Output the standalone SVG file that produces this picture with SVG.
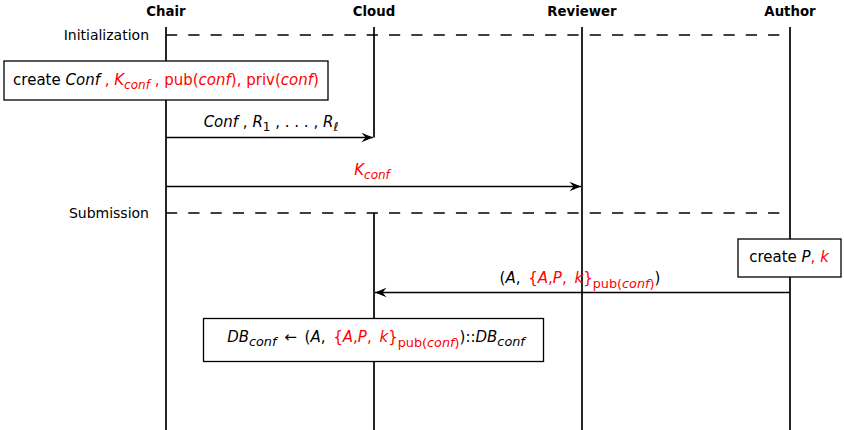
<svg xmlns="http://www.w3.org/2000/svg" width="844" height="430" viewBox="0 0 844 430">
<style>
text{font-family:"DejaVu Sans","Liberation Sans",sans-serif;font-size:15px;fill:#000}
.hd{font-weight:bold;font-size:13.3px;text-anchor:middle}
.lbl{font-size:14px;text-anchor:end}
.it{font-style:italic}
.r{fill:#ff0000}
.sub{font-size:12px}
.sub2{font-size:12.8px}
.life{stroke:#000;stroke-width:1.7;fill:none}
.dash{stroke:#000;stroke-width:1.5;stroke-dasharray:11.2 11.1;fill:none}
.msg{stroke:#000;stroke-width:1.3;fill:none}
.box{fill:#fff;stroke:#000;stroke-width:1.3}
.mid{text-anchor:middle}
.ws{word-spacing:3px}
</style>
<defs>
<marker id="ah" markerUnits="userSpaceOnUse" markerWidth="14" markerHeight="12" viewBox="-12 -6 13 12" refX="0" refY="0" orient="auto">
<path d="M0,0 L-11.5,-4.8 L-7.5,0 L-11.5,4.8 Z" fill="#000"/>
</marker>
</defs>
<g id="headers">
<text class="hd" x="166" y="16">Chair</text>
<text class="hd" x="374" y="16">Cloud</text>
<text class="hd" x="582" y="16">Reviewer</text>
<text class="hd" x="790" y="16">Author</text>
</g>
<g id="lifelines">
<path class="life" d="M166,27 V61 M166,100 V430"/>
<path class="life" d="M374,27 V137.5 M374,213 V318 M374,362 V430"/>
<path class="life" d="M582,27 V430"/>
<path class="life" d="M790,27 V239 M790,277 V430"/>
</g>
<g id="phases">
<text class="lbl" x="149" y="40">Initialization</text>
<path class="dash" d="M166,35 H790"/>
<text class="lbl" x="149" y="218">Submission</text>
<path class="dash" d="M166,213 H790"/>
</g>
<g id="chair-create">
<rect class="box" x="4" y="61" width="324" height="39"/>
<text class="mid" x="166" y="85">create <tspan class="it">Conf</tspan><tspan class="r"> , <tspan class="it">K</tspan><tspan class="it sub" dy="3.5">conf</tspan><tspan dy="-3.5"> , pub(</tspan><tspan class="it">conf</tspan>), priv(<tspan class="it">conf</tspan>)</tspan></text>
</g>
<g id="author-create">
<rect class="box" x="738" y="239" width="103" height="38"/>
<text class="mid" x="789" y="262">create <tspan class="it">P</tspan><tspan class="r">, <tspan class="it">k</tspan></tspan></text>
</g>
<g id="cloud-db">
<rect class="box" x="203.5" y="318.5" width="340" height="43"/>
<text class="mid ws" x="376" y="342"><tspan class="it">DB</tspan><tspan class="it sub2" dy="3.5">conf</tspan><tspan dy="-3.5"> ← (</tspan><tspan class="it">A</tspan>, <tspan class="r">{<tspan class="it">A</tspan>,<tspan class="it">P</tspan>, <tspan class="it">k</tspan>}<tspan class="sub2" dy="4.5">pub(<tspan class="it">conf</tspan>)</tspan></tspan><tspan dy="-4.5">)::</tspan><tspan class="it">DB</tspan><tspan class="it sub2" dy="3.5">conf</tspan></text>
</g>
<g id="connectors">
<path class="msg" d="M166,137.5 H373" marker-end="url(#ah)"/>
<text class="mid" x="271" y="127"><tspan class="it">Conf</tspan> , <tspan class="it">R</tspan><tspan class="sub" dy="3.5">1</tspan><tspan dy="-3.5"> , . . . , </tspan><tspan class="it">R</tspan><tspan class="it sub" dy="3.5">ℓ</tspan></text>
<path class="msg" d="M166,186.5 H581" marker-end="url(#ah)"/>
<text class="mid r" x="372" y="175"><tspan class="it">K</tspan><tspan class="it sub" dy="3.5">conf</tspan></text>
<path class="msg" d="M790,292.5 H375" marker-end="url(#ah)"/>
<text class="mid ws" x="580" y="283">(<tspan class="it">A</tspan>, <tspan class="r">{<tspan class="it">A</tspan>,<tspan class="it">P</tspan>, <tspan class="it">k</tspan>}<tspan class="sub2" dy="4.5">pub(<tspan class="it">conf</tspan>)</tspan></tspan><tspan dy="-4.5">)</tspan></text>
</g>
</svg>
